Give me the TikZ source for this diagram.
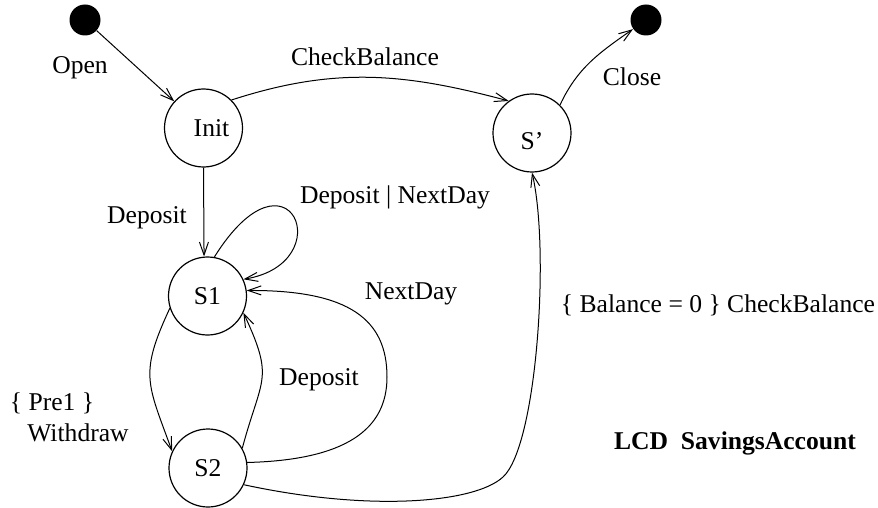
\documentclass[tikz,border=0pt]{standalone}
\usepackage{fontspec}
\setmainfont{Liberation Serif}
\usetikzlibrary{arrows.meta}

\begin{document}
\begin{tikzpicture}[
            x=1pt, y=1pt,
            state/.style={
                circle,
                draw,
                line width=0.6pt,
                minimum size=39pt,
                inner sep=0pt,
                font=\fontsize{12.8}{15}\selectfont
            },
            blob/.style={
                circle,
                fill=black,
                minimum size=15.5pt,
                inner sep=0pt
            },
            arrow/.style={-{Straight Barb[length=6.5pt,width=4.5pt]}, line width=0.5pt},
            note/.style={inner sep=0pt, font=\fontsize{12.8}{15}\selectfont}
        ]
            \useasboundingbox (0,0) rectangle (439,-254);

            % States
            \node[blob] (start) at (42.5,-10) {};
            \node[blob] (stop) at (323,-10) {};
            \node[state] (init) at (101.75,-64) {\hspace*{8pt}Init};
            \node[state, text height=17pt] (sp) at (266,-66.5) {S’};
            \node[state] (s1) at (103.75,-148) {S1};
            \node[state] (s2) at (104,-234) {S2};

            % Transitions
            \draw[arrow] (start) -- (init);
            \draw[arrow] (init.45) to[out=18, in=165] (sp.126);
            \draw[arrow] (sp.45) to[out=65, in=215] (stop);
            \draw[arrow] (init.south) -- (s1.95);
            \draw[arrow] (s1.80) .. controls +(37.5,60) and +(49,8) .. (s1.25);
            \draw[arrow] (s1.198) to[out=-115, in=110, looseness=1.3] (s2.155);
            \draw[arrow] (s2.30) to[out=75, in=-65, looseness=1.4] (s1.-25);
            \draw[arrow] (s2.8) .. controls (172.5,-230) and (193.5,-215) .. (193.5,-188.5)
                .. controls (193.5,-160) and (175,-145) .. (s1.8);
            \draw[arrow] (s2.-25) .. controls (185,-256) and (237.5,-251.5) .. (251.5,-238.5)
                .. controls (268.5,-223) and (275,-125) .. (sp.south);

            % Events and guards
            \node[note] (lopen) at (40,-34) {Open};
            \node[note] (lcheck) at (182.5,-28.5) {CheckBalance};
            \node[note] (lclose) at (316,-38.5) {Close};
            \node[note] (ldep) at (73.5,-109) {Deposit};
            \node[note] (lloop) at (197.5,-98.5) {Deposit | NextDay};
            \node[note] (lnext) at (205.5,-147) {NextDay};
            \node[note] (lguard) at (359,-152.5) {\{ Balance = 0 \} CheckBalance};
            \node[note] (lback) at (159.5,-190) {Deposit};
            \node[note] (lpre) at (26,-201.5) {\{ Pre1 \}};
            \node[note] (lwd) at (39,-216.5) {Withdraw};
            \node[note] (ltitle) at (367.5,-221.5) {\textbf{LCD\ \ SavingsAccount}};
        \end{tikzpicture}
\end{document}
